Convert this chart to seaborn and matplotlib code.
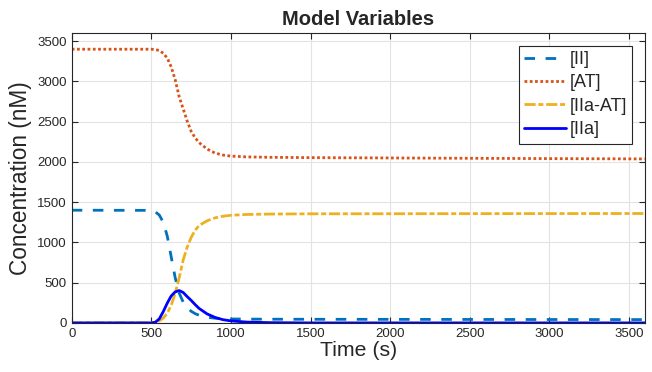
from matplotlib import pyplot as plt
import seaborn as sns
import pandas as pd

time = [0, 500, 525, 550, 575, 600, 625, 650, 675, 700, 725, 750, 775, 800,
        850, 900, 950, 1000, 1100, 1250, 1500, 2000, 2500, 3000, 3600]
ii = [1400, 1398, 1380, 1340, 1250, 1080, 820, 560, 370, 260, 190, 145, 115, 95,
      70, 58, 52, 49, 47, 46, 45, 44, 43, 42, 41]
at = [3400, 3400, 3395, 3385, 3350, 3290, 3180, 3020, 2810, 2660, 2510, 2380, 2300, 2240,
      2160, 2110, 2085, 2072, 2062, 2057, 2053, 2049, 2045, 2041, 2037]
iia_at = [0, 1, 8, 25, 60, 120, 220, 370, 560, 780, 940, 1060, 1150, 1210,
          1268, 1305, 1325, 1337, 1347, 1352, 1355, 1356, 1357, 1358, 1359]
iia = [0, 0, 8, 50, 140, 245, 335, 385, 402, 378, 327, 280, 228, 180,
       112, 68, 40, 25, 10, 3, 0, 0, 0, 0, 0]

series = ["[II]", "[AT]", "[IIa-AT]", "[IIa]"]
colors = ["#0072BD", "#D95319", "#EDB120", "#0000FF"]
styles = [(0, (3.8, 3.8)), (0, (1, 0.9)), (0, (4, 1, 1.8, 1)), "-"]

df = pd.DataFrame({"t": time, "[II]": ii, "[AT]": at, "[IIa-AT]": iia_at, "[IIa]": iia})

sns.set_style("whitegrid")
plt.rcParams["font.family"] = ["Liberation Sans", "DejaVu Sans"]

fig = plt.figure(figsize=(6.52, 3.72), dpi=100)
ax = fig.add_axes([0.110, 0.132, 0.879, 0.779])

for name, c, ls in zip(series, colors, styles):
    sns.lineplot(data=df, x="t", y=name, color=c, linestyle=ls, linewidth=2,
                 label=name, ax=ax)

ax.set_xlim(0, 3600)
ax.set_ylim(0, 3600)
ax.set_xticks(range(0, 3501, 500))
ax.set_yticks(range(0, 3501, 500))
ax.grid(True, color="#e3e3e3", linewidth=0.8)
for s in ax.spines.values():
    s.set_visible(True)
    s.set_color("#262626")
    s.set_linewidth(0.8)
ax.tick_params(direction="in", length=4, width=0.8, color="#262626",
               labelsize=9.5, labelcolor="#262626", top=True, right=True,
               bottom=True, left=True)
ax.set_xlabel("Time (s)", fontsize=15.3, color="#262626", labelpad=1)
ax.set_ylabel("Concentration (nM)", fontsize=16.3, color="#262626", labelpad=4)
ax.set_title("Model Variables", fontsize=14.5, fontweight="bold", pad=5.5)

leg = ax.legend(loc="upper right", fontsize=13, frameon=True, fancybox=False,
                handlelength=2.3, handletextpad=0.2, borderpad=0.3,
                labelspacing=0.35, borderaxespad=0.7)
leg.get_frame().set_edgecolor("#262626")
leg.get_frame().set_linewidth(0.8)
leg.get_frame().set_alpha(1)

fig.savefig("out.png", dpi=100)
